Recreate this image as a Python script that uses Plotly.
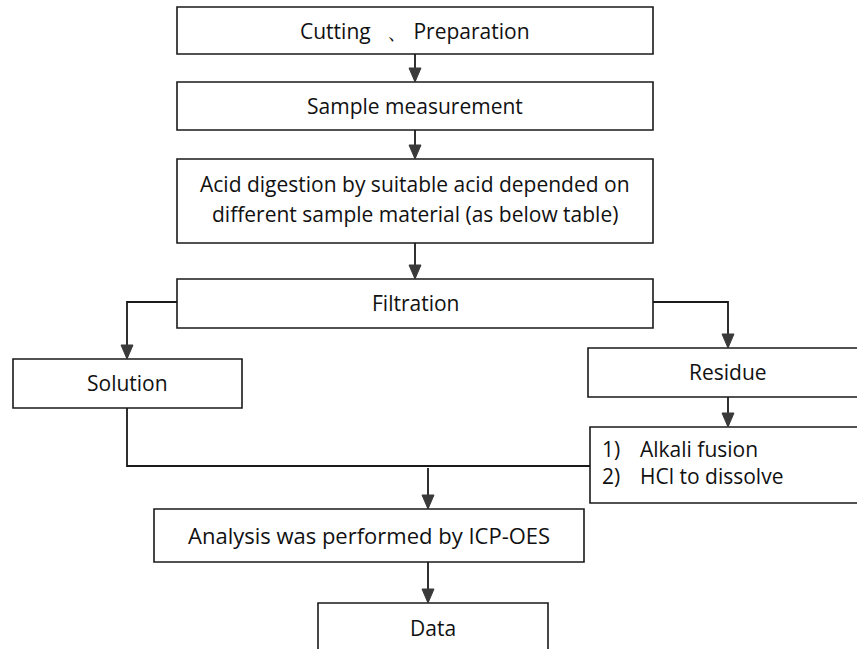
import plotly.graph_objects as go

W, H = 857, 649

# Flowchart boxes: x0, x1, y0, y1 in pixel-like units
box_x0 = [177, 177, 177, 177, 13, 588, 590, 154, 318]
box_x1 = [653, 653, 653, 653, 242, 870, 870, 584, 548]
box_y0 = [7, 82, 159, 279, 359, 348, 427, 509, 603]
box_y1 = [54, 130, 243, 328, 408, 397, 503, 562, 670]

# centred labels: text, x, y
label_text = [
    "Cutting   、 Preparation",
    "Sample measurement",
    "Acid digestion by suitable acid depended on",
    "different sample material (as below table)",
    "Filtration",
    "Solution",
    "Residue",
    "Analysis was performed by ICP-OES",
    "Data",
]
label_x = [415, 415, 415, 415, 415, 127, 728, 369, 433]
label_y = [31, 106, 184, 214, 303, 383, 372, 535, 628]
label_size = [21, 21, 21, 21, 21, 21, 21, 22, 21]

# list text in the alkali box
list_nums = ["1)", "2)"]
list_items = ["Alkali fusion", "HCl to dissolve"]
list_y = [449, 476]

# connectors (polylines); last point gets an arrowhead if arrow flag set
connectors = [
    ([(415, 54), (415, 82)], True),
    ([(415, 130), (415, 159)], True),
    ([(415, 243), (415, 279)], True),
    ([(177, 302), (127, 302), (127, 359)], True),
    ([(653, 302), (728, 302), (728, 348)], True),
    ([(728, 397), (728, 427)], True),
    ([(127, 408), (127, 466), (590, 466)], False),
    ([(428, 468), (428, 509)], True),
    ([(428, 562), (428, 603)], True),
]

LINE = "#1a1a1a"
HEAD = "#3a3a3a"
FONT = "Open Sans"
FS = 21

fig = go.Figure()
shapes = []
annotations = []

for x0, x1, y0, y1 in zip(box_x0, box_x1, box_y0, box_y1):
    shapes.append(dict(type="rect", x0=x0, x1=x1, y0=y0, y1=y1, xref="x", yref="y",
                       line=dict(color=LINE, width=1.6), fillcolor="white", layer="above"))

for t, cx, cy, fs in zip(label_text, label_x, label_y, label_size):
    annotations.append(dict(x=cx, y=cy, xref="x", yref="y", text=t,
                            showarrow=False, align="center",
                            font=dict(family=FONT, size=fs, color="#111")))

for num, item, yy in zip(list_nums, list_items, list_y):
    annotations.append(dict(x=600, y=yy, xref="x", yref="y", text=num, showarrow=False,
                            xanchor="left", font=dict(family=FONT, size=FS, color="#111")))
    annotations.append(dict(x=638, y=yy, xref="x", yref="y", text=item, showarrow=False,
                            xanchor="left", font=dict(family=FONT, size=FS, color="#111")))

for pts, arrow in connectors:
    path = "M " + " L ".join(f"{x},{y}" for x, y in pts)
    shapes.append(dict(type="path", path=path, xref="x", yref="y",
                       line=dict(color=LINE, width=1.8), layer="below"))
    if arrow:
        xb, yb = pts[-1]
        tri = f"M {xb-6},{yb-14} L {xb+6},{yb-14} L {xb},{yb} Z"
        shapes.append(dict(type="path", path=tri, xref="x", yref="y",
                           line=dict(color=HEAD, width=1), fillcolor=HEAD, layer="above"))

fig.update_layout(
    width=W, height=H,
    margin=dict(l=0, r=0, t=0, b=0),
    paper_bgcolor="white", plot_bgcolor="white",
    xaxis=dict(range=[0, W], visible=False, fixedrange=True),
    yaxis=dict(range=[H, 0], visible=False, fixedrange=True),
    shapes=shapes, annotations=annotations, showlegend=False,
)

fig.write_html("out.html", config={"displayModeBar": False},
               post_script="document.body.style.margin='0';document.body.style.overflow='hidden';")
